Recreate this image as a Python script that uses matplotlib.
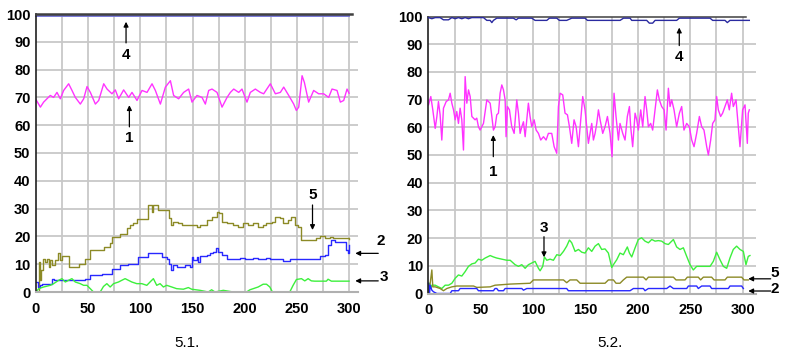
import matplotlib
matplotlib.use("Agg")
import matplotlib.pyplot as plt
import numpy as np

plt.rcParams['font.family'] = ['Liberation Sans', 'DejaVu Sans']

# ---------------- Panel 5.1 data ----------------
p1_s1_x = [0, 4.2, 7.3, 10.5, 13.7, 16.9, 20.1, 23.3, 26.5, 31.3, 34.5, 37.7, 42.5, 45.7, 48.9, 52.1, 56.9,
           60.1, 64.9, 68.1, 72.8, 76, 79.2, 84, 88.8, 92, 96.8, 101.6, 106.4, 111.2, 114.4, 119.2, 124, 128.8,
           131.9, 136.7, 141.5, 146.3, 149.5, 154.3, 159.1, 162.3, 165.5, 168.7, 173.5, 178.3, 183.1, 186.3,
           189.5, 194.3, 197.4, 202.2, 205.4, 210.2, 215, 218.2, 224.6, 229.4, 234.2, 237.4, 242.2, 247, 249.5,
           251.8, 255, 257.2, 261.3, 266.1, 270.9, 275.7, 280.5, 283.7, 288.5, 291.7, 294.9, 298.1, 300]
p1_s1_y = [69.2, 66.5, 68.3, 69.5, 70.7, 70, 71.8, 69.5, 72.5, 74.9, 72.5, 70, 67.6, 69.5, 73.9, 71.8, 67.6,
           68.9, 74.9, 73, 71.3, 72.7, 69.5, 72.7, 70, 71.8, 68.9, 72.5, 71.8, 74.9, 72.5, 67.6, 73.7, 76,
           70.7, 69.5, 71.8, 73, 68.3, 70.7, 70, 67.6, 72.5, 73, 71.8, 66.5, 70, 71.8,
           73, 71.8, 73, 68.3, 71.8, 73, 71.8, 71.3, 74.9, 71.3, 71.8, 73.7, 70.7, 67.6, 65.3,
           66.5, 77.8, 75.4, 68.3, 72.5, 71.3, 71.3, 70, 73, 72.5, 68.3, 68.9, 73, 71.5]

p1_s4_x = [0, 300]
p1_s4_y = [99.4, 99.4]

p1_s5_x = [0, 2.6, 3.5, 4.8, 6.7, 8.9, 10.5, 12.1, 13.7, 15.3, 18.5, 20.7, 22.6, 24.9, 29.6, 31.2, 36, 40.8,
           47.2, 52, 61.5, 64.7, 71.1, 72.7, 77.5, 80.7, 87, 90.2, 93.4, 96.6, 106.2, 107.7, 110.9, 112.5,
           115.7, 117.3, 125.3, 127.8, 129.1, 131.7, 136.4, 139.6, 150.8, 154, 157.2, 163.5, 168.3, 173.1,
           175.6, 177.9, 182.7, 189, 193.8, 198.6, 203.4, 208.2, 212.9, 217.7, 220.9, 225.7, 228.9, 233.7,
           236.9, 241.6, 244.8, 248, 251.2, 254.4, 265.5, 268.7, 271.9, 276.7, 281.5, 284.7, 287.9, 300]
p1_s5_y = [0, 10.8, 4.2, 7.8, 12, 10.8, 12, 9, 11.4, 9.6, 11.4, 13.9, 11.4, 12.9, 12.9, 9, 9, 10.2,
           11.7, 15, 15, 16.3, 17.5, 19.9, 19.9, 21, 22.9, 24, 24.7, 26.1, 26.1, 31.3, 28.9, 31.3,
           31.3, 29.5, 29.5, 26.5, 24, 25.3, 24.7, 24, 24, 23.3, 24, 25.8, 27, 28.9,
           28.3, 25.3, 24.7, 24, 23.3, 24.7, 24, 24.7, 23.5, 24, 24.7, 25.3, 27, 26.5,
           24.7, 25.8, 27, 24, 23.5, 18.7, 18.7, 19.3, 20.1, 19.3, 19.9, 19.3, 19.3, 18.9]

p1_s2_x = [0, 1.6, 3.5, 5.7, 13.7, 15.3, 16.9, 29.6, 45.6, 47.2, 52, 61.5, 63.1, 71.1, 72.7, 77.5, 80.7, 87,
           88.6, 96.6, 98.2, 106.2, 107.7, 118.9, 120.5, 125.3, 127.8, 129.1, 131, 134.8, 139.6, 142.8, 147.6,
           149.2, 150.8, 154, 155.6, 157.2, 163.5, 166.7, 169.9, 172.5, 174.7, 177.9, 182.7, 189, 195.4,
           200.2, 208.2, 212.9, 220.9, 224.1, 233.7, 236.9, 241.6, 243.2, 252.8, 268.7, 271.9, 276.7, 279.9,
           283.1, 286.3, 294.2, 296.8, 299, 300]
p1_s2_y = [3.6, 1.8, 2.4, 3, 3, 4.8, 4.2, 4.2, 4.2, 4.8, 6, 6, 6.6, 6.6, 8.4, 8.4, 9.6, 9.6,
           10.2, 10.2, 12.6, 12.6, 14.1, 14.1, 12.6, 11.7, 10.2, 8, 9.6, 9, 9, 9.6, 9,
           12.6, 11.4, 12.6, 10.8, 12.9, 13.3, 13.9, 14.5, 16, 14.5, 13.3, 12, 12, 12.4,
           12, 12.4, 12, 12.4, 12, 12, 11.2, 11.2, 12, 12, 12, 12.9, 13.3, 16.9,
           18.7, 18.1, 18.1, 15, 13.9, 16.9]

p1_s3_x = [0, 2.6, 7.3, 13.7, 16.9, 21.7, 24.9, 28.1, 31.2, 34.4, 37.6, 42.4, 45.6, 48.8, 52, 55.1, 61.5,
           64.7, 67.9, 71.1, 74.3, 79.1, 82.2, 85.4, 88.6, 91.8, 96.6, 101.4, 106.2, 109.3, 112.5, 115.7,
           118.9, 122.1, 125.3, 130.1, 134.8, 141.2, 146, 149.2, 157.2, 165.1, 168.3, 171.5, 179.5, 189,
           201.8, 205, 208.2, 212.9, 217.7, 220.9, 224.1, 226.6, 243.2, 246.4, 249.6, 254.4, 257.6, 260.8,
           263.9, 267.1, 278.3, 279.9, 283.1, 300]
p1_s3_y = [0, 1.2, 1.8, 2.4, 3, 4.2, 4.8, 3.6, 4.2, 4.8, 3.6, 3, 2.4, 2.4, 1.2, 0, 0,
           2, 3, 1.8, 3, 3.6, 4.2, 4.8, 4.2, 3.6, 3, 3, 2.4, 3.6, 4.8, 2.4,
           3, 1.8, 2.4, 1.8, 1.2, 1, 1.6, 1, 0.6, 0, 0.8, 0, 0.6, 0,
           0, 0.8, 1.2, 1.8, 2.8, 2.8, 1.8, 0, 0, 2.4, 4.5, 4.8, 4, 4.8,
           4, 3.9, 3.9, 4.6, 3.9, 3.9]

# ---------------- Panel 5.2 data ----------------
p2_s4_x = [0, 3.2, 6.4, 11.1, 14.3, 19.1, 22.3, 25.5, 28.6, 31.8, 35, 38.2, 41.4, 52.5, 55.7, 58.9, 60.5,
           62, 65.2, 81.1, 83.7, 85.9, 98.6, 101.8, 113, 115.5, 122.5, 125, 132, 136.8, 149.5, 151.8,
           183, 186.2, 192.5, 194.1, 208.4, 210.9, 214.1, 216.4, 237, 239.6, 268.9, 271.4, 283.2, 285.4,
           287.9, 306.4]
p2_s4_y = [99.6, 99.2, 99.6, 99.6, 98.8, 98.8, 99.6, 99.2, 99.6, 99.2, 99.6, 99.2, 99.6, 99.6, 98.6, 98.6,
           97.8, 98.6, 99.4, 99.4, 98.8, 99.4, 99.4, 98.6, 98.6, 99.4, 99.4, 98.6, 98.6, 99.4, 99.4, 98.6,
           98.6, 99.4, 99.4, 98.6, 98.6, 97.6, 97.6, 98.6, 98.6, 99.4, 99.4, 98.6, 98.6, 97.8,
           98.6, 98.6]

p2_s1_x = [0, 2.2, 4.1, 6.4, 8, 9.5, 11.1, 12.7, 14.3, 16.9, 19.1, 20.7, 22.3, 23.9, 25.5, 27, 28.6, 30.2,
           31.8, 33.4, 35, 36.6, 38.2, 39.8, 41.4, 44.5, 46.1, 47.7, 49.3, 52.5, 55.7, 58.9, 60.5, 62, 63.6,
           65.2, 66.8, 68.4, 70, 71.6, 73.2, 74.1, 75.4, 77.3, 79.5, 81.8, 84.3, 85.9, 87.5, 89.1, 90.7,
           92.3, 93.9, 95.4, 97, 98.6, 100.9, 102.8, 105, 107.2, 109.8, 112.3, 114.5, 117.7, 120, 122.5,
           124.1, 125.7, 128.2, 130.4, 132.7, 134.6, 136.8, 139, 141, 143.2, 145.4, 147.3, 149.5, 151.1,
           152.7, 154.3, 155.9, 157.5, 159.1, 160.7, 162.3, 163.9, 166.4, 168.6, 170.9, 173.4, 175.3,
           177.2, 179.1, 181.4, 182.9, 185.5, 187.7, 189.9, 191.9, 193.1, 195, 197.3, 198.9, 200.4,
           202.7, 204.6, 206.8, 208.4, 210, 212.2, 214.1, 216.4, 218.6, 220.5, 222.7, 225, 226.9, 229.1,
           230.7, 232.3, 234.5, 237, 239.6, 241.8, 244, 246.6, 249.1, 251.4, 253.6, 256.1, 258.7, 260.9,
           263.1, 265.7, 267.3, 269.5, 271.4, 273.6, 275.2, 276.8, 279, 280.9, 283.2, 285.4, 287.3,
           289.5, 291.1, 293.7, 295.9, 297.5, 300, 302.3, 304.5, 305.4, 306.4]
p2_s1_y = [68.1, 71.1, 66.3, 59.6, 63.9, 69.3, 64.5, 55.4, 66.9, 69.3, 69.9, 72.3, 68.7, 66.3, 62.7, 65.7,
           61.4, 66.9, 62.7, 51.8, 78.3, 68.7, 73.5, 71.1, 63.9, 62.7, 63.3, 60.2, 59, 61.4, 69.9, 68.7,
           63.9, 59, 60.2, 64.5, 65.1, 72.3, 75.3, 73.5, 69.9, 56.6, 67.5, 66.3, 60.2, 57.8, 69.9, 65.1,
           57.8, 60.2, 62, 56.6, 62.7, 68.7, 63.9, 60.2, 62.7, 59, 57.8, 55.4, 56.6, 55.4, 57.8, 57.8, 53,
           50.6, 67.5, 72.3, 71.7, 65.1, 64.5, 60.2, 54.2, 62.7, 60.2, 53, 62.7, 71.1, 66.3, 60.2, 54.2,
           57.8, 61.4, 55.4, 57.8, 61.4, 66.3, 62.7, 57.8, 60.2, 63.9, 57.8, 49.4, 72.3, 63.9, 55.4, 61.4,
           57.8, 55.4, 63.9, 67.5, 60.2, 53, 65.1, 62.7, 59, 66.3, 60.2, 71.1, 66.3, 60.2, 61.4, 59, 66.3,
           73.5, 69.9, 67.5, 66.3, 59, 74.1, 67.5, 69.9, 66.3, 60.2, 65.1, 67.5, 59, 61.4, 60.2, 55.4, 53,
           57.8, 63.9, 60.2, 59, 53, 50, 55.4, 61.4, 62.7, 71.1, 66.3, 63.9, 65.1, 67.5, 69.9, 66.3, 72.3,
           67.5, 69.9, 60.2, 53, 66.3, 68.1, 54.2, 65.1, 66.3]

p2_s3_x = [0, 1, 2.2, 3.2, 6.4, 9.5, 12.7, 15.9, 19.1, 22.3, 25.5, 28.6, 31.8, 35, 38.2, 41.4, 44.5, 47.7,
           50.9, 54.1, 58.9, 62, 65.2, 70, 74.8, 78, 82.7, 85.9, 89.1, 92.3, 95.4, 98.6, 101.8, 105, 106.6,
           109.1, 110.7, 113, 116.1, 119.3, 122.5, 125.7, 128.9, 132, 134.6, 136.8, 140, 143.2, 146.4,
           149.5, 152.7, 155.9, 159.1, 162.3, 165.4, 168.6, 171.8, 175, 176.6, 179.8, 182.9, 186.1, 189.9,
           191.9, 194.1, 197.3, 200.4, 203.6, 206.8, 210, 213.2, 216.4, 219.5, 222.7, 225.9, 229.1, 233.9,
           237, 240.2, 243.4, 246.6, 249.8, 252.9, 256.1, 262.5, 268.9, 272, 275.2, 278.4, 281.6, 284.8,
           287.9, 291.1, 294.3, 297.5, 300.7, 303.2, 305.4, 307]
p2_s3_y = [0, 3.7, 1.8, 3, 3, 2.4, 1.8, 3, 3, 3.7, 5.5, 6.7, 6.3, 7.9, 9.8, 10.7, 11, 12.4,
           12, 12.8, 13.7, 13.2, 12.8, 12.4, 12, 12, 10.4, 9.8, 10.4, 9.1, 10.4, 11, 11.6, 9.1, 8.2,
           9.8, 13.2, 12, 12.4, 12, 14, 13.7, 15.2, 17.1, 19.3, 18.3, 15.2, 15.9, 14.9,
           14.6, 16.5, 15.2, 17.1, 18, 15.9, 16.1, 14.6, 9.4, 10.4, 12.2, 14.6, 14, 16.8,
           14.6, 13.2, 16.5, 19.5, 20.1, 18.9, 18.3, 19.5, 18.9, 19.1, 18.9, 18, 17.7, 19.5,
           16.8, 15.9, 16.5, 13.4, 10.4, 8.5, 9.8, 9.8, 9.8, 11.6, 14.9, 12.2, 9.8, 9.1,
           12.8, 15.9, 17.1, 15.9, 15.2, 10.4, 13.4, 13.7]

p2_s5_x = [0, 1.6, 3.2, 4.1, 6.4, 11.1, 14.3, 17.5, 22.3, 27, 43, 46.1, 58.9, 63.6, 78, 97, 100.2, 128.9,
           132, 135.2, 141.6, 144.8, 168.6, 171.8, 176.6, 179.1, 182.9, 186.1, 189.3, 205.2, 207.8, 210,
           233.9, 236.4, 245, 247.2, 257.7, 259.9, 262.5, 270.4, 272.7, 283.2, 285.4, 299.1, 301.3, 305.4]
p2_s5_y = [0, 3.7, 8.5, 2.4, 2.4, 1.8, 1, 1.8, 2.4, 2.7, 2.7, 2.2, 2.4, 3, 3.4, 3.7, 4.9, 4.9,
           3.9, 4.9, 4.9, 3.7, 3.7, 4.9, 4.9, 3.7, 3.7, 4.9, 5.9, 5.9, 4.9, 5.9,
           5.9, 4.9, 4.9, 5.9, 5.9, 4.9, 5.9, 5.9, 4.9, 4.9, 5.9, 5.9, 4.9, 4.9]

p2_s2_x = [0, 1, 1.6, 3.2, 4.8, 8, 20.7, 22.3, 28.6, 30.2, 46.1, 47.7, 62, 63.6, 65.2, 66.8, 71.6, 73.2,
           89.1, 90.7, 93.9, 132, 133.6, 192.5, 195.7, 205.2, 206.8, 210, 227.5, 230.7, 233.9, 246.6,
           248.2, 256.1, 257.7, 260.9, 268.9, 270.4, 286.4, 287.9, 299.1, 300.7]
p2_s2_y = [3.7, 0, 3, 1.2, 0.6, 0, 0, 1, 1, 1.8, 1.8, 1, 1, 1.8, 1.8, 1, 1, 1.8,
           1.8, 1.2, 1.8, 1.8, 1, 1, 1.8, 1.8, 1, 1.8, 1.8, 2.7, 1.8, 1.8,
           2.7, 2.7, 1.8, 2.7, 2.7, 1.8, 1.8, 2.7, 2.7, 1.8]

x_ticks = [0, 50, 100, 150, 200, 250, 300]
y_ticks = [0, 10, 20, 30, 40, 50, 60, 70, 80, 90, 100]

C_MAG = '#ff33ff'
C_BLUE = '#2828ff'
C_NAVY = '#2a2aa0'
C_GREEN = '#3cf03c'
C_OLIVE = '#8c8a26'
GRID = '#c8c8c8'

fig = plt.figure(figsize=(7.89, 3.56), dpi=100)
ax1 = fig.add_axes([36/789, 1-292/356, 322/789, 278/356])
ax2 = fig.add_axes([428.5/789, 1-293.5/356, 327.2/789, 277/356])


def style(ax, xmax, topend, toplw):
    ax.set_xlim(0, xmax)
    ax.set_ylim(0, 100)
    ax.set_xticks(x_ticks)
    ax.set_yticks(y_ticks)
    ax.tick_params(length=0, which='both', labelsize=10.5, pad=4)
    ax.tick_params(axis='x', pad=7)
    for lab in ax.get_xticklabels() + ax.get_yticklabels():
        lab.set_fontweight('bold')
    for v in np.arange(25, 301, 25):
        ax.plot([v, v], [0, 100], color=GRID, lw=1.3, zorder=0)
    for h in range(10, 100, 10):
        ax.axhline(h, color=GRID, lw=1.3, zorder=0)
    for s in ['top', 'right']:
        ax.spines[s].set_visible(False)
    ax.spines['left'].set_color('#202020')
    ax.spines['left'].set_linewidth(1.2)
    ax.spines['bottom'].set_color('#b0b0b0')
    ax.spines['bottom'].set_linewidth(1.5)
    ax.plot([0, topend], [100, 100], color='#404040', lw=toplw, clip_on=False, zorder=3)


style(ax1, 308.6, 303, 1.8)
style(ax2, 312.5, 303.5, 1.1)

lw = 1.0
ax1.plot(p1_s1_x, p1_s1_y, color=C_MAG, lw=lw)
ax1.plot(p1_s4_x, p1_s4_y, color='#7070d8', lw=1.3, clip_on=False)
ax1.plot(p1_s5_x, p1_s5_y, color=C_OLIVE, lw=lw, drawstyle='steps-post')
ax1.plot(p1_s2_x, p1_s2_y, color=C_BLUE, lw=lw, drawstyle='steps-post')
ax1.plot(p1_s3_x, p1_s3_y, color=C_GREEN, lw=lw, clip_on=False)

ax2.plot(p2_s1_x, p2_s1_y, color=C_MAG, lw=lw)
ax2.plot(p2_s4_x, p2_s4_y, color=C_NAVY, lw=lw, clip_on=False, zorder=4)
ax2.plot(p2_s3_x, p2_s3_y, color=C_GREEN, lw=lw)
ax2.plot(p2_s5_x, p2_s5_y, color=C_OLIVE, lw=lw)
ax2.plot(p2_s2_x, p2_s2_y, color=C_BLUE, lw=lw, clip_on=False)

arrow = dict(arrowstyle='-|>', color='black', lw=0.9, mutation_scale=7, shrinkA=0, shrinkB=0)
box = dict(facecolor='white', edgecolor='none', pad=1.0)


def mark(ax, label, txy, tail, tip):
    ax.annotate('', xy=tip, xytext=tail, arrowprops=arrow, annotation_clip=False, zorder=5)
    ax.text(txy[0], txy[1], label, ha='center', va='center', fontsize=11, fontweight='bold',
            bbox=box, clip_on=False, zorder=4)


mark(ax1, '4', (86.3, 85.2), (86.3, 89.6), (86.3, 97.2))
mark(ax1, '1', (89.5, 55.4), (89.5, 59.4), (89.5, 67.2))
mark(ax1, '5', (265, 34.9), (265, 31.3), (265, 22.3))
mark(ax1, '2', (330, 18.3), (328, 13.9), (306, 13.9))
mark(ax1, '3', (333, 5.5), (328, 4.0), (306, 4.0))

mark(ax2, '4', (239.5, 85.3), (239.5, 89.5), (239.5, 96))
mark(ax2, '1', (61.9, 44), (61.9, 49.4), (61.9, 57.2))
mark(ax2, '3', (110.3, 23.5), (110.3, 20.5), (110.3, 13.1))
mark(ax2, '5', (331, 7.5), (326.8, 5.3), (305.4, 5.3))
mark(ax2, '2', (331, 1.5), (326.8, 0.9), (305.4, 0.9))

fig.text(187/789, 1-343/356, '5.1.', ha='center', va='center', fontsize=11)
fig.text(610/789, 1-343/356, '5.2.', ha='center', va='center', fontsize=11)

fig.savefig('out.png', dpi=100)
